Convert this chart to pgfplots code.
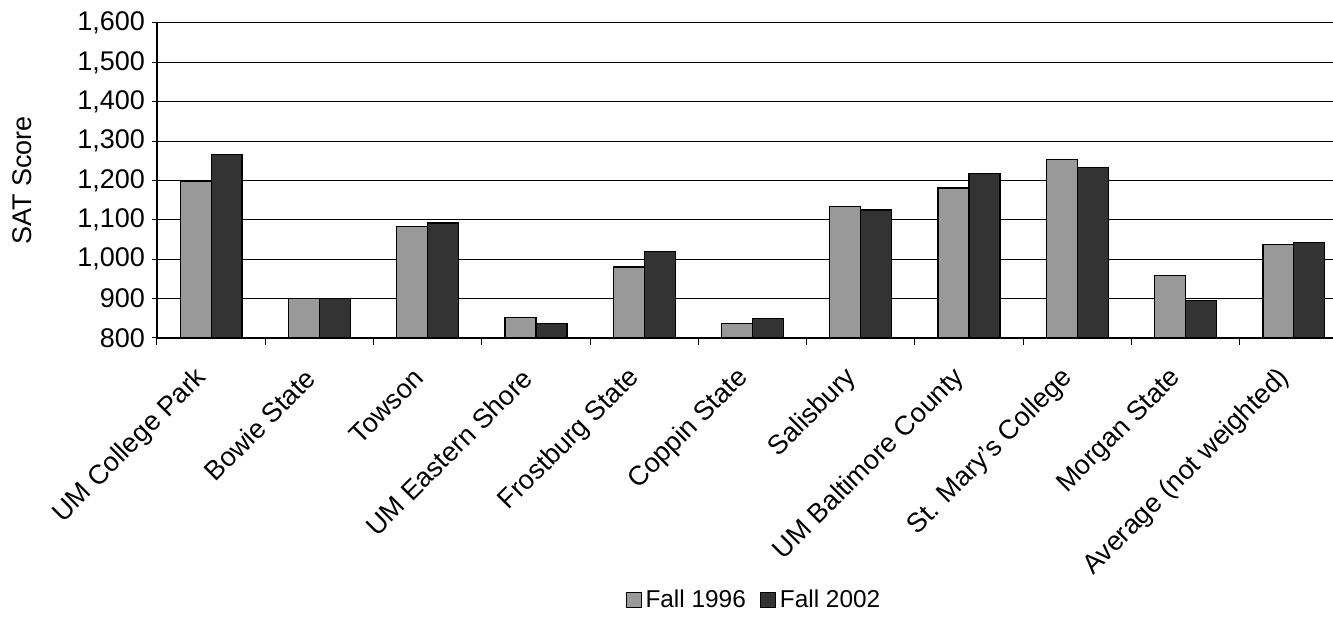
\documentclass[border=0pt]{standalone}
\usepackage{fontspec}
\setmainfont{Liberation Sans}
\usepackage{pgfplots}
\pgfplotsset{compat=1.18}
\definecolor{barlight}{HTML}{999999}
\definecolor{bardark}{HTML}{333333}

% Mean SAT scores of entering freshmen, by campus
\pgfplotstableread{
idx f1996 f2002
0   1197  1265
1   901   900
2   1084  1092
3   852   837
4   980   1020
5   837   849
6   1134  1125
7   1181  1217
8   1254  1232
9   959   895
10  1037  1043
}\satdata

\newcommand\chartfont{\fontsize{13.5}{16}\selectfont}

\begin{document}
\begin{tikzpicture}
\begin{axis}[
  scale only axis,
  width=595.6pt, height=157.5pt,
  ybar, bar width=0.286,
  ymin=800, ymax=1600,
  ytick={800,900,...,1600},
  xmin=-0.5, xmax=10.5,
  xtick={0,...,10},
  xticklabels={UM College Park, Bowie State, Towson, UM Eastern Shore,
    Frostburg State, Coppin State, Salisbury, UM Baltimore County,
    St. Mary’s College, Morgan State, Average (not weighted)},
  major x tick style={draw=none},
  minor xtick={-0.5,0.5,...,10.5},
  minor x tick style={black, line width=0.5pt},
  minor tick length=3.5pt,
  major tick length=2.5pt,
  tick align=outside,
  ytick style={black, line width=0.5pt},
  axis x line*=bottom,
  axis y line*=left,
  axis line style={black, line width=0.6pt},
  ymajorgrids,
  grid style={black, line width=0.5pt},
  yticklabel style={/pgf/number format/.cd, 1000 sep={,}, assume math mode=true},
  ticklabel style={font=\chartfont},
  xticklabel style={anchor=east, inner sep=1pt, xshift=-3.5pt, yshift=-14.6pt, rotate=45},
  ylabel={SAT Score},
  ylabel style={at={(axis description cs:-0.1134,0.5)}, anchor=center,
    font=\chartfont},
  legend style={at={(axis description cs:0.502,-0.832)}, anchor=center,
    draw=none, legend columns=2, font=\fontsize{12.2}{14}\selectfont,
    /tikz/every even column/.append style={column sep=5pt}},
  legend image code/.code={\draw[#1, draw=black, line width=0.5pt] (0pt,-3.75pt) rectangle (7.5pt,3.75pt);},
]
\addplot[fill=barlight, draw=black, line width=0.6pt, bar shift=-0.143]
  table[x=idx, y=f1996] {\satdata};
\addlegendentry{Fall 1996}
\addplot[fill=bardark, draw=black, line width=0.6pt, bar shift=0.143]
  table[x=idx, y=f2002] {\satdata};
\addlegendentry{Fall 2002}
\coordinate (bl) at (rel axis cs:-0.1318,-0.892);
\coordinate (tr) at (rel axis cs:0.9874,1.073);
\end{axis}
\pgfresetboundingbox
\path[use as bounding box] (bl) rectangle (tr);
\end{tikzpicture}
\end{document}
